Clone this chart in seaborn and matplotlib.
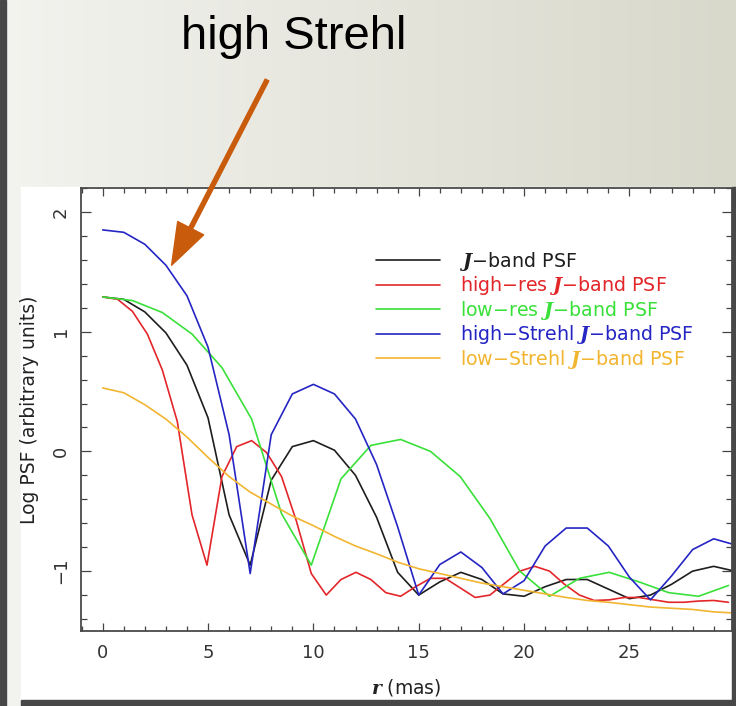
import numpy as np
import matplotlib
matplotlib.use('Agg')
import matplotlib.pyplot as plt
from matplotlib.patches import Rectangle
from matplotlib.ticker import MultipleLocator
import seaborn as sns

# radii (mas) for the three samplings
r_std = [0, 1, 2, 3, 4, 5, 6, 7, 8, 9, 10, 11, 12, 13, 14, 15, 16, 17, 18, 19,
         20, 21, 22, 23, 24, 25, 26, 27, 28, 29, 30]
r_hires = [0, 0.71, 1.41, 2.12, 2.83, 3.54, 4.24, 4.95, 5.66, 6.36, 7.07, 7.78,
           8.49, 9.19, 9.90, 10.61, 11.31, 12.02, 12.73, 13.44, 14.14, 14.85,
           15.56, 16.26, 16.97, 17.68, 18.38, 19.09, 19.80, 20.51, 21.21, 21.92,
           22.63, 23.33, 24.04, 24.75, 25.46, 26.16, 26.87, 27.58, 28.28, 28.99,
           29.70]
r_lowres = [0, 1.41, 2.83, 4.24, 5.66, 7.07, 8.49, 9.90, 11.31, 12.73, 14.14,
            15.56, 16.97, 18.38, 19.80, 21.21, 22.63, 24.04, 25.46, 26.87,
            28.28, 29.70]

# log PSF values
psf_j = [1.29, 1.27, 1.165, 0.99, 0.72, 0.28, -0.53, -0.95, -0.24, 0.04, 0.09,
         0.01, -0.20, -0.55, -1.01, -1.20, -1.09, -1.01, -1.07, -1.19, -1.21,
         -1.13, -1.07, -1.07, -1.15, -1.23, -1.20, -1.11, -1.00, -0.96, -1.00]
psf_hires = [1.29, 1.27, 1.17, 0.98, 0.68, 0.25, -0.53, -0.95, -0.21, 0.04, 0.09,
             -0.01, -0.21, -0.58, -1.02, -1.20, -1.07, -1.01, -1.07, -1.18,
             -1.21, -1.13, -1.06, -1.06, -1.14, -1.22, -1.20, -1.10, -1.00,
             -0.96, -1.00, -1.11, -1.20, -1.245, -1.24, -1.22, -1.22, -1.24,
             -1.26, -1.26, -1.25, -1.245, -1.26]
psf_lowres = [1.29, 1.26, 1.16, 0.98, 0.70, 0.27, -0.52, -0.95, -0.23, 0.05, 0.10,
              0.00, -0.21, -0.56, -1.00, -1.21, -1.06, -1.01, -1.09, -1.18,
              -1.21, -1.12]
psf_hstrehl = [1.85, 1.83, 1.73, 1.555, 1.30, 0.87, 0.14, -1.02, 0.14, 0.48, 0.56,
               0.48, 0.27, -0.11, -0.63, -1.20, -0.945, -0.84, -0.97, -1.19,
               -1.08, -0.79, -0.64, -0.64, -0.79, -1.05, -1.24, -1.04, -0.82,
               -0.73, -0.78]
psf_lstrehl = [0.53, 0.49, 0.39, 0.27, 0.12, -0.05, -0.21, -0.34, -0.44, -0.54,
               -0.62, -0.71, -0.79, -0.855, -0.925, -0.98, -1.02, -1.06, -1.10,
               -1.13, -1.16, -1.19, -1.22, -1.245, -1.26, -1.28, -1.30, -1.31,
               -1.32, -1.34, -1.35]

J = r'$\mathbfit{J}$'
labels = [J + '\u2212band PSF',
          'high\u2212res ' + J + '\u2212band PSF',
          'low\u2212res ' + J + '\u2212band PSF',
          'high\u2212Strehl ' + J + '\u2212band PSF',
          'low\u2212Strehl ' + J + '\u2212band PSF']
colors = ['#1e1e1e', '#e3262a', '#3ae03a', '#2525c4', '#f2b530']

sns.set_style('ticks')
plt.rcParams['font.family'] = ['DejaVu Sans']
plt.rcParams['mathtext.fontset'] = 'custom'
plt.rcParams['mathtext.rm'] = 'DejaVu Sans'
plt.rcParams['mathtext.bfit'] = 'DejaVu Serif:italic:bold'

fig = plt.figure(figsize=(7.36, 7.06), dpi=100)

# slide background
bg = fig.add_axes([0, 0, 1, 1], zorder=-10)
grad = np.linspace(0, 1, 256)[None, :]
bg.imshow(grad, aspect='auto', extent=[0, 1, 0, 1],
          cmap=matplotlib.colors.LinearSegmentedColormap.from_list(
              'slide', ['#f3f3ef', '#d8d8cb']))
bg.set_xlim(0, 1)
bg.set_ylim(0, 1)
bg.axis('off')
bg.add_patch(Rectangle((21 / 736, 6 / 706), 711 / 736, 513 / 706, color='white'))
bg.add_patch(Rectangle((0, 0), 6 / 736, 1, color='#474747'))
bg.add_patch(Rectangle((21 / 736, 0), 715 / 736, 6 / 706, color='#474747'))
bg.add_patch(Rectangle((732 / 736, 0), 4 / 736, 519 / 706, color='#474747'))

ax = fig.add_axes([81 / 736, 75 / 706, 651 / 736, 443 / 706])
ax.set_facecolor('none')

series = [(r_std, psf_j), (r_hires, psf_hires), (r_lowres, psf_lowres),
          (r_std, psf_hstrehl), (r_std, psf_lstrehl)]
for (x, y), c, lab in zip(series, colors, labels):
    sns.lineplot(x=x, y=y, color=c, lw=1.2, label=lab, ax=ax,
                 sort=False, estimator=None)

ax.set_xlim(-1.03, 29.87)
ax.set_ylim(-1.5, 2.2)
ax.set_xticks([0, 5, 10, 15, 20, 25])
ax.xaxis.set_minor_locator(MultipleLocator(1))
ax.set_yticks([-1, 0, 1, 2])
ax.yaxis.set_minor_locator(MultipleLocator(0.2))
ax.tick_params(which='both', direction='in', top=True, right=True,
               color='#444444', labelcolor='#333333', width=0.9, labelsize=13)
ax.tick_params(axis='x', which='major', length=6, pad=9)
ax.tick_params(axis='x', which='minor', length=3.3)
ax.tick_params(axis='y', which='major', length=7, pad=8)
ax.tick_params(axis='y', which='minor', length=4.3)
plt.setp(ax.get_yticklabels(), rotation=90, va='center')
for s in ax.spines.values():
    s.set_color('#4a4a4a')
    s.set_linewidth(1.3)

ax.set_xlabel(r'$\mathbfit{r}$ (mas)', fontsize=13.5, color='#222222', labelpad=11)
ax.set_ylabel('Log PSF (arbitrary units)', fontsize=13.5, color='#222222',
              labelpad=9)

ax.legend(loc='upper left', bbox_to_anchor=(0.438, 0.882), frameon=False,
          fontsize=13.7, handlelength=3.4, handletextpad=1.05, labelspacing=0.08,
          borderpad=0, labelcolor='linecolor')

# slide annotation
fig.text(294 / 736, 1 - 37 / 706, 'high Strehl', fontsize=34, ha='center',
         va='center', family='Liberation Sans', color='black')
ax.annotate('', xy=(3.27, 1.555), xycoords='data',
            xytext=(267, 706 - 80), textcoords='figure pixels',
            arrowprops=dict(arrowstyle='simple,head_length=30,head_width=21,tail_width=2.9',
                            mutation_scale=1, color='#c95b0c', shrinkA=0, shrinkB=0),
            annotation_clip=False)

plt.savefig('out.png', dpi=100)
